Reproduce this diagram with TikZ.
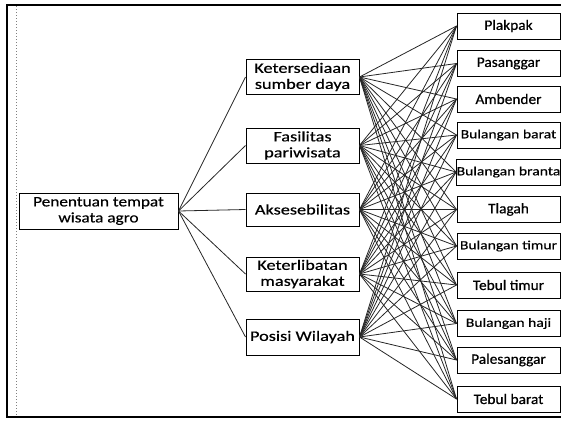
\documentclass[tikz,border=0pt]{standalone}
\usepackage{fontspec}
\setmainfont{Carlito}
\newfontfamily\fmid[FakeStretch=1.26,FakeBold=0.5]{Carlito}
\newfontfamily\froot[FakeStretch=1.19,FakeBold=0.5]{Carlito}
\newfontfamily\fright[FakeStretch=1.06,FakeBold=0.5]{Carlito}
\newfontfamily\fbul[FakeStretch=1.25,FakeBold=0.5]{Carlito}
\begin{document}
\begin{tikzpicture}[x=1pt,y=-1pt,
  box/.style={draw=black,line width=1pt,rectangle,inner sep=0pt,align=center,text=black},
  rootbox/.style={box,minimum width=159pt,minimum height=36pt,font={\froot\fontsize{14.5}{16}\selectfont}},
  midbox/.style={box,minimum width=113pt,minimum height=35pt,font={\fmid\fontsize{14.5}{16}\selectfont}},
  rbox/.style={box,minimum width=103pt,minimum height=26pt,font={\fright\fontsize{14.5}{16}\selectfont}},
  bbox/.style={box,minimum width=103pt,minimum height=26pt,font={\fbul\fontsize{12.5}{14}\selectfont}},
  link/.style={draw=black!85,line width=0.8pt}]
\useasboundingbox (0,0) rectangle (561,421);
% frame
\draw[line width=2.5pt] (561,5) -- (7,5) -- (7,417) -- (561,417);
\draw[gray,dotted,line width=1pt] (16.5,6) -- (16.5,416);
% nodes
\node[rootbox] (root) at (98.5,211) {Penentuan tempat\\wisata agro};
\node[midbox] (m1) at (302.5,77) {Ketersediaan\\sumber daya};
\node[midbox] (m2) at (302.5,145.5) {Fasilitas\\pariwisata};
\node[midbox,minimum height=33pt] (m3) at (302.5,209.5) {Aksesebilitas};
\node[midbox,minimum height=34pt] (m4) at (302.5,274) {Keterlibatan\\masyarakat};
\node[midbox,minimum height=36pt] (m5) at (302.5,337) {Posisi Wilayah};
\node[rbox] (r1) at (508.5,26) {Plakpak};
\node[rbox] (r2) at (508.5,63.5) {Pasanggar};
\node[rbox] (r3) at (508.5,99) {Ambender};
\node[bbox] (r4) at (508.5,135) {Bulangan barat};
\node[bbox] (r5) at (508.5,172) {Bulangan branta};
\node[rbox] (r6) at (508.5,209.5) {Tlagah};
\node[bbox] (r7) at (508.5,246) {Bulangan timur};
\node[rbox] (r8) at (508.5,285) {Tebul timur};
\node[bbox] (r9) at (508.5,323.5) {Bulangan haji};
\node[rbox] (r10) at (508.5,360) {Palesanggar};
\node[rbox] (r11) at (508.5,399) {Tebul barat};
% links
\foreach \m in {1,...,5}{
  \draw[link] (root.east) -- (m\m.west);
  \foreach \r in {1,...,11}{
    \draw[link] (m\m.east) -- (r\r.west);
  }
}
\end{tikzpicture}
\end{document}
